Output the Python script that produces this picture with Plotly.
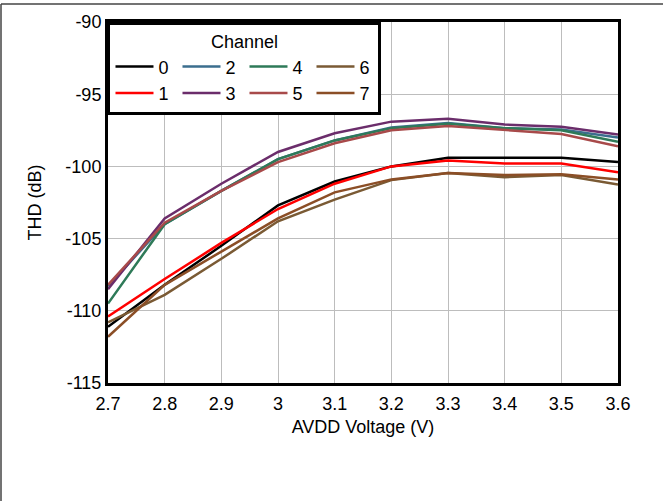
import plotly.graph_objects as go

voltage = [2.7, 2.8, 2.9, 3.0, 3.1, 3.2, 3.3, 3.4, 3.5, 3.6]
x_tick_text = ["2.7", "2.8", "2.9", "3", "3.1", "3.2", "3.3", "3.4", "3.5", "3.6"]
y_tick_vals = [-115, -110, -105, -100, -95, -90]
y_tick_text = ["-115", "-110", "-105", "-100", "-95", "-90"]

ch0 = [-111.1, -108.2, -105.5, -102.7, -101.05, -100.0, -99.4, -99.4, -99.4, -99.7]
ch1 = [-110.4, -107.8, -105.3, -102.95, -101.2, -100.0, -99.6, -99.8, -99.8, -100.4]
ch2 = [-108.3, -104.0, -101.7, -99.5, -98.2, -97.3, -97.0, -97.35, -97.45, -98.0]
ch3 = [-108.5, -103.6, -101.2, -99.0, -97.7, -96.9, -96.7, -97.1, -97.25, -97.8]
ch4 = [-109.5, -104.0, -101.7, -99.5, -98.2, -97.35, -97.05, -97.35, -97.5, -98.3]
ch5 = [-108.2, -103.9, -101.7, -99.7, -98.4, -97.5, -97.2, -97.5, -97.75, -98.6]
ch6 = [-110.8, -108.9, -106.4, -103.8, -102.3, -100.95, -100.45, -100.75, -100.6, -101.25]
ch7 = [-111.8, -108.2, -105.9, -103.6, -101.8, -100.9, -100.45, -100.6, -100.55, -100.9]

channels = ["0", "1", "2", "3", "4", "5", "6", "7"]
series = [ch0, ch1, ch2, ch3, ch4, ch5, ch6, ch7]
colors = ["#000000", "#FF0000", "#3B6E8E", "#6B2D6B", "#2E7A58", "#A84A4A", "#7A5A34", "#8B4E26"]
ranks = [1, 5, 2, 6, 3, 7, 4, 8]

FONT = "Liberation Sans, Arial, sans-serif"

fig = go.Figure()
for name, vals, col, rk in zip(channels, series, colors, ranks):
    fig.add_trace(go.Scatter(x=voltage, y=vals, mode="lines", name=name,
                             line=dict(color=col, width=2.5), legendrank=rk))

W, H = 663, 501
ml, mr, mt, mb = 108, 45, 22, 118
pw = W - ml - mr
ph = H - mt - mb

fig.update_layout(
    width=W, height=H,
    margin=dict(l=ml, r=mr, t=mt, b=mb, autoexpand=False),
    paper_bgcolor="white", plot_bgcolor="white",
    font=dict(family=FONT, size=18, color="black"),
    showlegend=True,
    legend=dict(
        orientation="h", x=-0.001, y=1, xanchor="left", yanchor="top",
        bgcolor="white", bordercolor="black", borderwidth=3,
        entrywidth=14, entrywidthmode="pixels",
        title=dict(text="Channel", side="top center", font=dict(size=18)),
        font=dict(size=18), itemwidth=38, tracegroupgap=0,
    ),
    xaxis=dict(
        range=[2.7, 3.6], tickvals=voltage, ticktext=x_tick_text,
        showgrid=True, gridcolor="#BDBDBD", gridwidth=1,
        showline=True, linecolor="black", linewidth=3, mirror=True,
        ticks="", ticklabelstandoff=2, zeroline=False,
        title=dict(text="AVDD Voltage (V)", standoff=8, font=dict(size=18)),
    ),
    yaxis=dict(
        range=[-115, -90], tickvals=y_tick_vals, ticktext=y_tick_text,
        showgrid=True, gridcolor="#BDBDBD", gridwidth=1,
        showline=True, linecolor="black", linewidth=3, mirror=True,
        ticks="", ticklabelstandoff=0, zeroline=False,
        title=dict(text="THD (dB)", standoff=20, font=dict(size=18)),
    ),
)

# outer frame lines (top and left edge of the picture)
fig.add_shape(type="line", xref="paper", yref="paper",
              x0=(1 - ml) / pw, x1=(W + 5 - ml) / pw,
              y0=1 + (mt - 4) / ph, y1=1 + (mt - 4) / ph,
              line=dict(color="#444444", width=1.5))
fig.add_shape(type="line", xref="paper", yref="paper",
              x0=(1 - ml) / pw, x1=(1 - ml) / pw,
              y0=1 + (mt - 4) / ph, y1=-(mb + 5) / ph,
              line=dict(color="#444444", width=1.5))

fig.write_html("out.html", config={"displayModeBar": False},
               post_script="document.body.style.margin='0';document.body.style.overflow='hidden';")
